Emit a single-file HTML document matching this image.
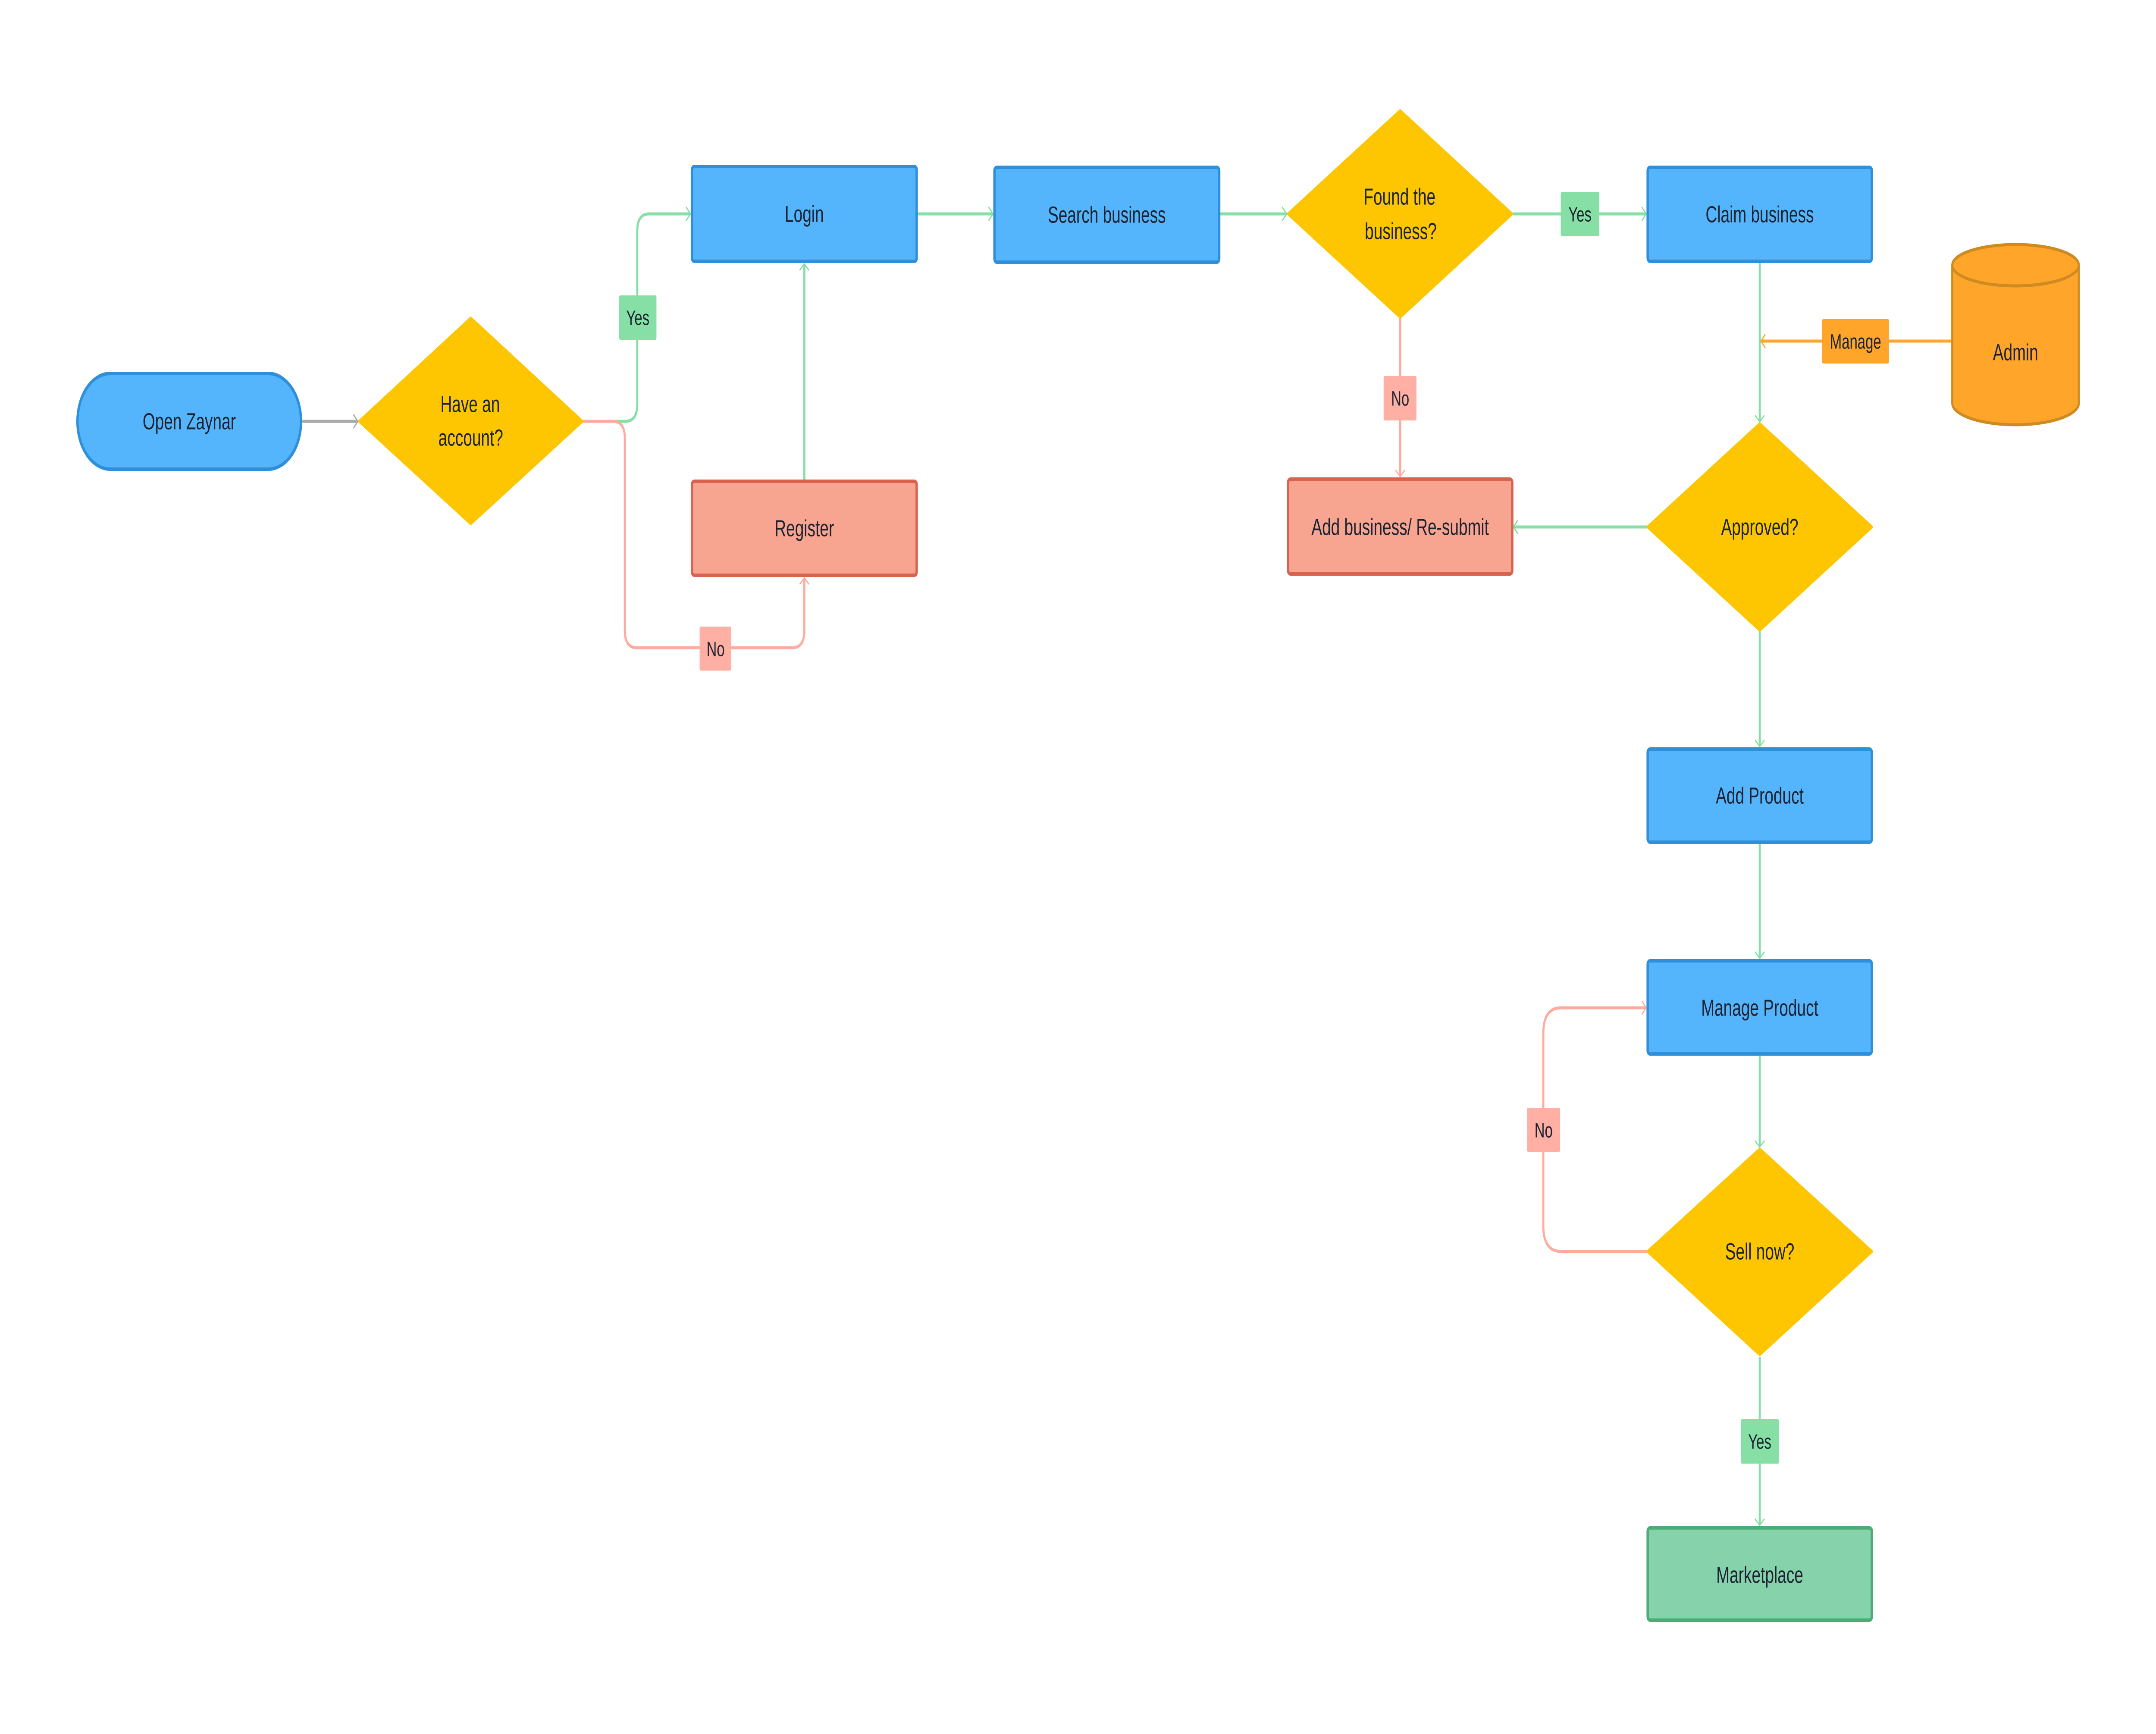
<!DOCTYPE html>
<html><head><meta charset="utf-8"><style>
html,body{margin:0;padding:0;background:#fff;overflow:hidden;width:100%;height:100%;}
svg{display:block;width:100vw;height:100vh;}
text{font-family:"Liberation Sans",sans-serif;font-size:54px;fill:#1b2230;text-anchor:middle;dominant-baseline:central;}
</style></head><body>
<svg viewBox="0 0 7291 4021" preserveAspectRatio="none" xmlns="http://www.w3.org/2000/svg">
<defs>
<marker id="ag" viewBox="0 0 20 20" refX="19" refY="10" markerWidth="10" markerHeight="10" markerUnits="userSpaceOnUse" orient="auto" overflow="visible"><path d="M-30,-22 L0,10 L-30,42" transform="translate(19,0)" fill="none" stroke="#86dfa6" stroke-width="7"/></marker>
<marker id="ar" viewBox="0 0 20 20" refX="19" refY="10" markerWidth="10" markerHeight="10" markerUnits="userSpaceOnUse" orient="auto" overflow="visible"><path d="M-30,-22 L0,10 L-30,42" transform="translate(19,0)" fill="none" stroke="#ffaba0" stroke-width="7"/></marker>
<marker id="ay" viewBox="0 0 20 20" refX="19" refY="10" markerWidth="10" markerHeight="10" markerUnits="userSpaceOnUse" orient="auto" overflow="visible"><path d="M-30,-22 L0,10 L-30,42" transform="translate(19,0)" fill="none" stroke="#aaaaaa" stroke-width="7"/></marker>
<marker id="ao" viewBox="0 0 20 20" refX="19" refY="10" markerWidth="10" markerHeight="10" markerUnits="userSpaceOnUse" orient="auto" overflow="visible"><path d="M-30,-22 L0,10 L-30,42" transform="translate(19,0)" fill="none" stroke="#fea52a" stroke-width="7"/></marker>
</defs>

<g fill="none" stroke-width="7">
<path d="M1022,977 L1210,977" stroke="#aaaaaa" marker-end="url(#ay)"/>
<path d="M1972,977 L2115,977 Q2155,977 2155,937 L2155,536 Q2155,496 2195,496 L2335,496" stroke="#86dfa6" marker-end="url(#ag)"/>
<path d="M1972,977 L2073,977 Q2113,977 2113,1017 L2113,1462 Q2113,1502 2153,1502 L2680,1502 Q2720,1502 2720,1462 L2720,1340" stroke="#ffaba0" marker-end="url(#ar)"/>
<path d="M2720,1112 L2720,612" stroke="#86dfa6" marker-end="url(#ag)"/>
<path d="M3103,496 L3358,496" stroke="#86dfa6" marker-end="url(#ag)"/>
<path d="M4126,496 L4351,496" stroke="#86dfa6" marker-end="url(#ag)"/>
<path d="M5116,496 L5567,496" stroke="#86dfa6" marker-end="url(#ag)"/>
<path d="M4735,738 L4735,1105" stroke="#ffaba0" marker-end="url(#ar)"/>
<path d="M5951,610 L5951,978" stroke="#86dfa6" marker-end="url(#ag)"/>
<path d="M6598,791 L5955,791" stroke="#fea52a" marker-end="url(#ao)"/>
<path d="M5569,1222 L5118,1222" stroke="#86dfa6" marker-end="url(#ag)"/>
<path d="M5951,1464 L5951,1731" stroke="#86dfa6" marker-end="url(#ag)"/>
<path d="M5951,1956 L5951,2222" stroke="#86dfa6" marker-end="url(#ag)"/>
<path d="M5951,2448 L5951,2660" stroke="#86dfa6" marker-end="url(#ag)"/>
<path d="M5569,2902 L5279,2902 Q5219,2902 5219,2842 L5219,2397 Q5219,2337 5279,2337 L5567,2337" stroke="#ffaba0" marker-end="url(#ar)"/>
<path d="M5951,3146 L5951,3537" stroke="#86dfa6" marker-end="url(#ag)"/>
</g>

<g stroke-width="8">
<rect x="262" y="866" width="756" height="222" rx="111" fill="#54b5fd" stroke="#2e8fdb"/>
<polygon points="1214,977 1592,737 1970,977 1592,1215" fill="#fdc600" stroke="#fdc600" stroke-linejoin="round" stroke-width="6"/>
<rect x="2340" y="386" width="760" height="220" rx="8" fill="#54b5fd" stroke="#2e8fdb"/>
<rect x="2340" y="1116" width="760" height="218" rx="8" fill="#f7a491" stroke="#d9634f"/>
<rect x="3363" y="388" width="760" height="220" rx="8" fill="#54b5fd" stroke="#2e8fdb"/>
<polygon points="4355,496 4735,256 5114,496 4735,736" fill="#fdc600" stroke="#fdc600" stroke-linejoin="round" stroke-width="6"/>
<rect x="5572" y="388" width="758" height="218" rx="8" fill="#54b5fd" stroke="#2e8fdb"/>
<rect x="4356" y="1111" width="758" height="220" rx="8" fill="#f7a491" stroke="#d9634f"/>
<polygon points="5571,1222 5951,982 6331,1222 5951,1462" fill="#fdc600" stroke="#fdc600" stroke-linejoin="round" stroke-width="6"/>
<rect x="5572" y="1737" width="758" height="216" rx="8" fill="#54b5fd" stroke="#2e8fdb"/>
<rect x="5572" y="2228" width="758" height="216" rx="8" fill="#54b5fd" stroke="#2e8fdb"/>
<polygon points="5571,2902 5951,2664 6331,2902 5951,3142" fill="#fdc600" stroke="#fdc600" stroke-linejoin="round" stroke-width="6"/>
<rect x="5572" y="3543" width="758" height="214" rx="8" fill="#86d3ab" stroke="#4eaa77"/>
<path d="M6602,615 L6602,935 A214,50 0 0 0 7030,935 L7030,615" fill="#fea52a" stroke="#cf8a22" stroke-width="7"/>
<ellipse cx="6816" cy="615" rx="214" ry="48" fill="#fea52a" stroke="#cf8a22" stroke-width="7"/>
</g>

<rect x="2094" y="685" width="126" height="103" rx="4" fill="#86e0a5"/>
<rect x="2366" y="1453" width="107" height="102" rx="4" fill="#ffafa3"/>
<rect x="5278" y="445" width="130" height="103" rx="4" fill="#86e0a5"/>
<rect x="4679" y="872" width="111" height="103" rx="4" fill="#ffafa3"/>
<rect x="6162" y="740" width="226" height="103" rx="4" fill="#fea52a"/>
<rect x="5164" y="2569" width="112" height="102" rx="4" fill="#ffafa3"/>
<rect x="5887" y="3291" width="129" height="103" rx="4" fill="#86e0a5"/>

<text x="2157" y="737" style="font-size:48px">Yes</text>
<text x="2420" y="1505" style="font-size:48px">No</text>
<text x="5343" y="497" style="font-size:48px">Yes</text>
<text x="4735" y="924" style="font-size:48px">No</text>
<text x="6275" y="792" style="font-size:48px">Manage</text>
<text x="5220" y="2621" style="font-size:48px">No</text>
<text x="5951" y="3343" style="font-size:48px">Yes</text>

<text x="640" y="977">Open Zaynar</text>
<text x="1590" y="937">Have an</text>
<text x="1592" y="1015">account?</text>
<text x="2720" y="496">Login</text>
<text x="2720" y="1225">Register</text>
<text x="3743" y="498">Search business</text>
<text x="4733" y="456">Found the</text>
<text x="4737" y="536">business?</text>
<text x="5951" y="497">Claim business</text>
<text x="6816" y="817">Admin</text>
<text x="4735" y="1222">Add business/ Re-submit</text>
<text x="5951" y="1222">Approved?</text>
<text x="5951" y="1845">Add Product</text>
<text x="5951" y="2337">Manage Product</text>
<text x="5951" y="2902">Sell now?</text>
<text x="5951" y="3652">Marketplace</text>
</svg>
</body></html>
